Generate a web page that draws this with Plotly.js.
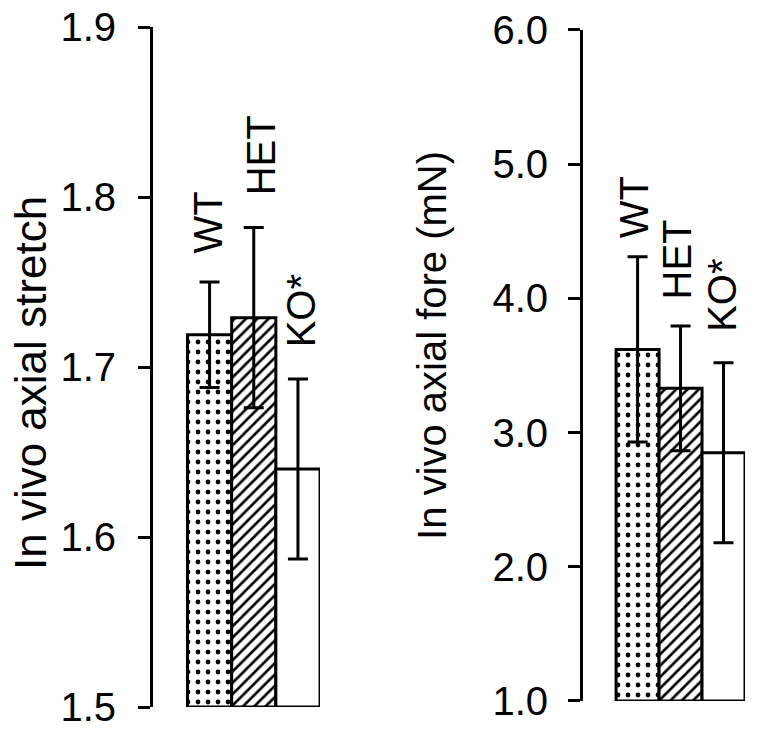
<!DOCTYPE html>
<html><head><meta charset="utf-8">
<script src="https://cdn.plot.ly/plotly-3.0.1.min.js"></script>
<style>html,body{margin:0;padding:0;background:#fff}</style>
</head><body><div id="chart" style="width:762px;height:744px"></div>
<script>
// ---- data ----
const groups = ['WT', 'HET', 'KO'];
const groupLabels = ['WT', 'HET', 'KO*'];
const stretchMean = [1.719, 1.729, 1.640];
const stretchErr = [0.031, 0.053, 0.053];
const forceMean = [3.62, 3.33, 2.85];
const forceErr = [0.69, 0.465, 0.67];
const stretchTicks = [1.5, 1.6, 1.7, 1.8, 1.9];
const forceTicks = [1, 2, 3, 4, 5, 6];
const stretchTitle = 'In vivo axial stretch';
const forceTitle = 'In vivo axial fore (mN)';

// ---- styles ----
const FONT = 'Liberation Sans, Arial, sans-serif';
const stretchRange = [1.5, 1.9];
const forceRange = [1.0, 6.0];
const pattern = {
  shape: ['.', '/', ''],
  bgcolor: 'white',
  fgcolor: 'black',
  size: [10, 8, 8],
  solidity: [0.18, 0.33, 0.3]
};

function barTrace(means, errs, base, xa, ya) {
  return {
    type: 'bar',
    x: groups,
    y: means.map(v => v - base),
    base: base,
    xaxis: xa, yaxis: ya,
    marker: { color: 'white', line: { color: 'black', width: 3 }, pattern: pattern },
    error_y: { type: 'data', array: errs, visible: true, color: 'black', thickness: 3, width: 10 },
    hoverinfo: 'skip'
  };
}

const data = [
  barTrace(stretchMean, stretchErr, stretchRange[0], 'x', 'y'),
  barTrace(forceMean, forceErr, forceRange[0], 'x2', 'y2')
];

const leftShiftY = [26, 30, 30], leftShiftX = [-2, 7, 3];
const rightShiftY = [16, 24, 29], rightShiftX = [-4, -4, -1];
const annotations = [];
groups.forEach((g, i) => {
  annotations.push({
    xref: 'x', yref: 'y', x: g, y: stretchMean[i] + stretchErr[i],
    text: groupLabels[i], textangle: -90, showarrow: false,
    xanchor: 'center', yanchor: 'bottom', xshift: leftShiftX[i], yshift: leftShiftY[i],
    font: { family: FONT, size: 40, color: 'black' }
  });
  annotations.push({
    xref: 'x2', yref: 'y2', x: g, y: forceMean[i] + forceErr[i],
    text: groupLabels[i], textangle: -90, showarrow: false,
    xanchor: 'center', yanchor: 'bottom', xshift: rightShiftX[i], yshift: rightShiftY[i],
    font: { family: FONT, size: 40, color: 'black' }
  });
});
// axis titles (placed as rotated annotations for exact positioning)
annotations.push({
  xref: 'paper', yref: 'paper', x: 0.0394, y: 0.4852, text: stretchTitle,
  textangle: -90, showarrow: false, xanchor: 'center', yanchor: 'middle',
  font: { family: FONT, size: 44, color: 'black' }
});
annotations.push({
  xref: 'paper', yref: 'paper', x: 0.5669, y: 0.5363, text: forceTitle,
  textangle: -90, showarrow: false, xanchor: 'center', yanchor: 'middle',
  font: { family: FONT, size: 40, color: 'black' }
});

function yAxis(range, ticks, anchor, domain, standoff) {
  return {
    domain: domain, range: range, tickvals: ticks, tickformat: '.1f',
    showline: true, linewidth: 3, linecolor: 'black',
    ticks: 'outside', ticklen: 12, tickwidth: 3, tickcolor: 'black',
    ticklabelstandoff: standoff,
    tickfont: { family: FONT, size: 40, color: 'black' },
    showgrid: false, zeroline: false, automargin: false, anchor: anchor
  };
}

const layout = {
  width: 762, height: 744,
  margin: { l: 0, r: 0, t: 0, b: 0 },
  paper_bgcolor: 'white', plot_bgcolor: 'white',
  showlegend: false, bargap: 0,
  font: { family: FONT, color: 'black', size: 40 },
  xaxis: { domain: [0.2008, 0.42], range: [-1.28, 2.5], visible: false, type: 'category', anchor: 'y' },
  xaxis2: { domain: [0.7651, 0.9777], range: [-1.27, 2.5], visible: false, type: 'category', anchor: 'y2' },
  yaxis: yAxis(stretchRange, stretchTicks, 'x', [0.0497, 0.9637], 14),
  yaxis2: yAxis(forceRange, forceTicks, 'x2', [0.0578, 0.9597], 12),
  annotations: annotations
};

Plotly.newPlot('chart', data, layout, { staticPlot: true, displayModeBar: false });
</script>
</body></html>
